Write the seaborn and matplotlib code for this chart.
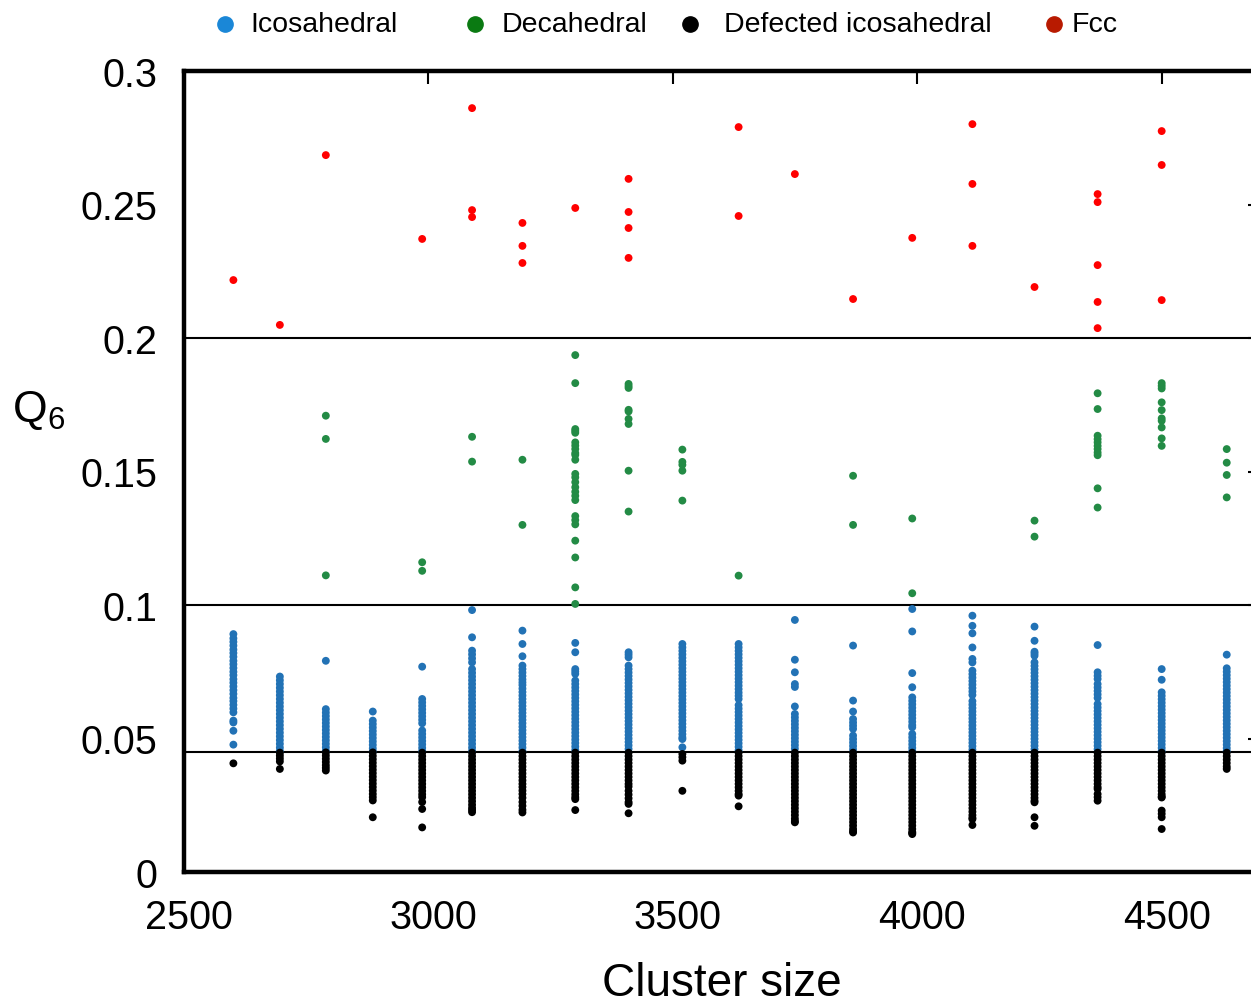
import matplotlib
matplotlib.use("Agg")
import matplotlib.pyplot as plt
import matplotlib.transforms as mtransforms
import pandas as pd
import seaborn as sns
from matplotlib.lines import Line2D
from matplotlib.ticker import FuncFormatter, MultipleLocator

# ---------------- data ----------------
cluster_sizes = [2602, 2697, 2791, 2887, 2988, 3090, 3193, 3301, 3410, 3520,
                 3635, 3750, 3869, 3990, 4113, 4240, 4369, 4500, 4633]

icosahedral_q6 = [
    [0.0891, 0.0875, 0.0862, 0.0848, 0.0833, 0.0820, 0.0806, 0.0791, 0.0778, 0.0764, 0.0750,
     0.0737, 0.0722, 0.0709, 0.0695, 0.0681, 0.0667, 0.0652, 0.0640, 0.0626, 0.0612, 0.0598,
     0.0567, 0.0560, 0.0529, 0.0477],
    [0.0732, 0.0718, 0.0704, 0.0690, 0.0676, 0.0662, 0.0648, 0.0634, 0.0620, 0.0606, 0.0592,
     0.0578, 0.0564, 0.0550, 0.0536, 0.0522, 0.0508, 0.0494, 0.0480, 0.0466, 0.0453],
    [0.0791, 0.0610, 0.0597, 0.0584, 0.0571, 0.0558, 0.0545, 0.0532, 0.0519, 0.0506, 0.0493,
     0.0480, 0.0467, 0.0454],
    [0.0601, 0.0567, 0.0554, 0.0541, 0.0528, 0.0515, 0.0502, 0.0489, 0.0476, 0.0463, 0.0452],
    [0.0769, 0.0648, 0.0635, 0.0622, 0.0609, 0.0596, 0.0583, 0.0570, 0.0557, 0.0530, 0.0517,
     0.0504, 0.0491, 0.0478, 0.0465, 0.0453],
    [0.0981, 0.0879, 0.0829, 0.0815, 0.0800, 0.0785, 0.0760, 0.0746, 0.0732, 0.0718, 0.0704,
     0.0690, 0.0676, 0.0662, 0.0648, 0.0634, 0.0620, 0.0606, 0.0592, 0.0578, 0.0564, 0.0550,
     0.0536, 0.0522, 0.0508, 0.0494, 0.0480, 0.0466, 0.0453],
    [0.0904, 0.0854, 0.0808, 0.0773, 0.0760, 0.0747, 0.0734, 0.0721, 0.0710, 0.0700, 0.0687,
     0.0674, 0.0661, 0.0648, 0.0635, 0.0622, 0.0609, 0.0596, 0.0583, 0.0570, 0.0557, 0.0544,
     0.0531, 0.0518, 0.0505, 0.0492, 0.0479, 0.0466, 0.0453],
    [0.0858, 0.0823, 0.0760, 0.0751, 0.0742, 0.0717, 0.0704, 0.0691, 0.0678, 0.0665, 0.0652,
     0.0639, 0.0626, 0.0613, 0.0600, 0.0587, 0.0574, 0.0561, 0.0548, 0.0535, 0.0522, 0.0509,
     0.0496, 0.0483, 0.0470, 0.0457],
    [0.0823, 0.0814, 0.0804, 0.0773, 0.0760, 0.0747, 0.0734, 0.0721, 0.0708, 0.0695, 0.0682,
     0.0669, 0.0656, 0.0643, 0.0630, 0.0617, 0.0604, 0.0591, 0.0578, 0.0565, 0.0552, 0.0539,
     0.0526, 0.0513, 0.0500, 0.0487, 0.0474, 0.0461],
    [0.0854, 0.0841, 0.0828, 0.0815, 0.0802, 0.0789, 0.0776, 0.0763, 0.0750, 0.0737, 0.0724,
     0.0711, 0.0698, 0.0685, 0.0672, 0.0659, 0.0646, 0.0633, 0.0620, 0.0607, 0.0594, 0.0581,
     0.0568, 0.0555, 0.0542, 0.0529, 0.0516, 0.0504, 0.0498, 0.0467],
    [0.0854, 0.0841, 0.0828, 0.0815, 0.0802, 0.0789, 0.0776, 0.0763, 0.0750, 0.0737, 0.0724,
     0.0711, 0.0698, 0.0685, 0.0672, 0.0660, 0.0648, 0.0625, 0.0612, 0.0599, 0.0586, 0.0573,
     0.0560, 0.0547, 0.0534, 0.0521, 0.0508, 0.0495, 0.0482, 0.0469, 0.0456],
    [0.0944, 0.0795, 0.0748, 0.0704, 0.0693, 0.0620, 0.0592, 0.0579, 0.0566, 0.0553, 0.0540,
     0.0527, 0.0514, 0.0501, 0.0488, 0.0475, 0.0462],
    [0.0848, 0.0642, 0.0601, 0.0573, 0.0560, 0.0548, 0.0536, 0.0511, 0.0498, 0.0485, 0.0472,
     0.0459],
    [0.0985, 0.0901, 0.0745, 0.0692, 0.0654, 0.0641, 0.0628, 0.0615, 0.0602, 0.0589, 0.0576,
     0.0563, 0.0550, 0.0542, 0.0517, 0.0504, 0.0491, 0.0478, 0.0465, 0.0453],
    [0.0960, 0.0922, 0.0894, 0.0841, 0.0798, 0.0785, 0.0754, 0.0741, 0.0728, 0.0715, 0.0702,
     0.0689, 0.0676, 0.0663, 0.0640, 0.0627, 0.0614, 0.0601, 0.0588, 0.0575, 0.0562, 0.0549,
     0.0536, 0.0523, 0.0510, 0.0497, 0.0484, 0.0471, 0.0458],
    [0.0919, 0.0866, 0.0825, 0.0818, 0.0810, 0.0785, 0.0772, 0.0759, 0.0746, 0.0733, 0.0720,
     0.0707, 0.0694, 0.0681, 0.0668, 0.0655, 0.0642, 0.0629, 0.0616, 0.0603, 0.0590, 0.0577,
     0.0564, 0.0551, 0.0538, 0.0525, 0.0512, 0.0499, 0.0486, 0.0473, 0.0460],
    [0.0850, 0.0748, 0.0735, 0.0723, 0.0704, 0.0691, 0.0678, 0.0665, 0.0652, 0.0629, 0.0616,
     0.0603, 0.0590, 0.0577, 0.0564, 0.0551, 0.0538, 0.0525, 0.0512, 0.0499, 0.0486, 0.0473,
     0.0460],
    [0.0760, 0.0720, 0.0673, 0.0660, 0.0647, 0.0634, 0.0621, 0.0608, 0.0595, 0.0582, 0.0569,
     0.0556, 0.0543, 0.0530, 0.0517, 0.0504, 0.0491, 0.0478, 0.0465, 0.0453],
    [0.0814, 0.0763, 0.0750, 0.0737, 0.0724, 0.0711, 0.0698, 0.0685, 0.0672, 0.0659, 0.0646,
     0.0633, 0.0620, 0.0607, 0.0594, 0.0581, 0.0568, 0.0555, 0.0542, 0.0529, 0.0516, 0.0503,
     0.0490, 0.0477, 0.0464, 0.0453],
]

decahedral_q6 = [
    [], [],
    [0.1709, 0.1622, 0.1111],
    [],
    [0.1160, 0.1128],
    [0.1630, 0.1537],
    [0.1544, 0.1300],
    [0.1936, 0.1831, 0.1659, 0.1652, 0.1645, 0.1609, 0.1597, 0.1584, 0.1569, 0.1562, 0.1544,
     0.1491, 0.1478, 0.1460, 0.1441, 0.1424, 0.1409, 0.1393, 0.1333, 0.1318, 0.1302, 0.1241,
     0.1178, 0.1066, 0.1004],
    [0.1828, 0.1820, 0.1813, 0.1731, 0.1725, 0.1697, 0.1678, 0.1503, 0.1350],
    [0.1582, 0.1536, 0.1525, 0.1503, 0.1391],
    [0.1110],
    [],
    [0.1484, 0.1300],
    [0.1324, 0.1044],
    [],
    [0.1316, 0.1256],
    [0.1793, 0.1734, 0.1634, 0.1621, 0.1609, 0.1596, 0.1584, 0.1571, 0.1561, 0.1437, 0.1365],
    [0.1831, 0.1821, 0.1811, 0.1759, 0.1730, 0.1699, 0.1690, 0.1665, 0.1624, 0.1596],
    [0.1584, 0.1533, 0.1487, 0.1403],
]

defected_q6 = [
    [0.0407],
    [0.0447, 0.0436, 0.0425, 0.0414, 0.0386],
    [0.0448, 0.0436, 0.0424, 0.0412, 0.0400, 0.0390, 0.0380],
    [0.0448, 0.0435, 0.0422, 0.0409, 0.0396, 0.0383, 0.0370, 0.0357, 0.0344, 0.0331, 0.0318,
     0.0305, 0.0292, 0.0280, 0.0268, 0.0205],
    [0.0447, 0.0434, 0.0421, 0.0408, 0.0395, 0.0382, 0.0369, 0.0356, 0.0343, 0.0330, 0.0317,
     0.0304, 0.0291, 0.0280, 0.0262, 0.0236, 0.0167],
    [0.0447, 0.0434, 0.0421, 0.0408, 0.0395, 0.0382, 0.0369, 0.0356, 0.0343, 0.0330, 0.0317,
     0.0304, 0.0291, 0.0278, 0.0265, 0.0252, 0.0240, 0.0232, 0.0224],
    [0.0447, 0.0434, 0.0421, 0.0408, 0.0395, 0.0382, 0.0369, 0.0356, 0.0343, 0.0330, 0.0318,
     0.0305, 0.0292, 0.0278, 0.0262, 0.0248, 0.0233, 0.0223],
    [0.0447, 0.0434, 0.0421, 0.0408, 0.0395, 0.0382, 0.0369, 0.0356, 0.0343, 0.0330, 0.0317,
     0.0304, 0.0291, 0.0280, 0.0273, 0.0232],
    [0.0447, 0.0434, 0.0421, 0.0408, 0.0395, 0.0382, 0.0369, 0.0356, 0.0343, 0.0330, 0.0320,
     0.0304, 0.0290, 0.0276, 0.0262, 0.0255, 0.0220],
    [0.0442, 0.0430, 0.0417, 0.0304],
    [0.0447, 0.0434, 0.0421, 0.0408, 0.0395, 0.0382, 0.0369, 0.0356, 0.0343, 0.0330, 0.0317,
     0.0304, 0.0292, 0.0286, 0.0246],
    [0.0447, 0.0434, 0.0421, 0.0408, 0.0395, 0.0382, 0.0369, 0.0356, 0.0343, 0.0330, 0.0317,
     0.0304, 0.0291, 0.0278, 0.0265, 0.0252, 0.0239, 0.0226, 0.0213, 0.0200, 0.0190, 0.0186],
    [0.0447, 0.0434, 0.0421, 0.0408, 0.0395, 0.0382, 0.0369, 0.0356, 0.0343, 0.0330, 0.0317,
     0.0304, 0.0291, 0.0278, 0.0265, 0.0252, 0.0239, 0.0226, 0.0213, 0.0200, 0.0187, 0.0174,
     0.0161, 0.0152, 0.0148],
    [0.0447, 0.0434, 0.0421, 0.0408, 0.0395, 0.0382, 0.0369, 0.0356, 0.0343, 0.0330, 0.0317,
     0.0304, 0.0291, 0.0278, 0.0265, 0.0252, 0.0239, 0.0226, 0.0213, 0.0200, 0.0187, 0.0174,
     0.0161, 0.0150, 0.0146, 0.0142],
    [0.0447, 0.0434, 0.0421, 0.0408, 0.0395, 0.0382, 0.0369, 0.0356, 0.0343, 0.0330, 0.0317,
     0.0304, 0.0291, 0.0278, 0.0265, 0.0252, 0.0239, 0.0226, 0.0213, 0.0203, 0.0198, 0.0176],
    [0.0447, 0.0434, 0.0421, 0.0408, 0.0395, 0.0382, 0.0369, 0.0356, 0.0343, 0.0330, 0.0317,
     0.0304, 0.0291, 0.0278, 0.0267, 0.0261, 0.0205, 0.0173],
    [0.0447, 0.0434, 0.0421, 0.0408, 0.0395, 0.0382, 0.0369, 0.0356, 0.0343, 0.0330, 0.0318,
     0.0311, 0.0292, 0.0280, 0.0267],
    [0.0447, 0.0434, 0.0421, 0.0408, 0.0395, 0.0382, 0.0369, 0.0356, 0.0343, 0.0330, 0.0317,
     0.0304, 0.0291, 0.0282, 0.0279, 0.0230, 0.0218, 0.0205, 0.0161],
    [0.0447, 0.0434, 0.0421, 0.0408, 0.0395, 0.0386],
]

fcc_q6 = [
    [0.2217],
    [0.2049],
    [0.2685],
    [],
    [0.2371],
    [0.2861, 0.2479, 0.2453],
    [0.2431, 0.2345, 0.2281],
    [0.2487],
    [0.2596, 0.2472, 0.2412, 0.2300],
    [],
    [0.2790, 0.2457],
    [0.2614],
    [0.2146],
    [0.2375],
    [0.2801, 0.2577, 0.2345],
    [0.2191],
    [0.2539, 0.2509, 0.2273, 0.2135, 0.2037],
    [0.2775, 0.2648, 0.2142],
    [],
]

structure_names = ["Icosahedral", "Decahedral", "Defected icosahedral", "Fcc"]
point_colors = ["#2272B5", "#238B45", "#000000", "#FF0000"]
legend_colors = ["#1A87D7", "#0A7A12", "#000000", "#B81A00"]
boundaries_q6 = [0.2, 0.1, 0.045]

# ---------------- build long-form table ----------------
rows = []
for name, series in zip(structure_names,
                        [icosahedral_q6, decahedral_q6, defected_q6, fcc_q6]):
    for size, values in zip(cluster_sizes, series):
        for v in values:
            rows.append({"size": size, "q6": v, "structure": name})
df = pd.DataFrame(rows)

# ---------------- styling ----------------
sns.set_style("white")
plt.rcParams["font.family"] = ["Liberation Sans", "DejaVu Sans"]
plt.rcParams["mathtext.fontset"] = "custom"
plt.rcParams["mathtext.rm"] = "Liberation Sans"
plt.rcParams["mathtext.it"] = "Liberation Sans:italic"
plt.rcParams["text.color"] = "black"
plt.rcParams["axes.labelcolor"] = "black"
plt.rcParams["xtick.color"] = "black"
plt.rcParams["ytick.color"] = "black"

W, H = 1251, 1004
fig = plt.figure(figsize=(W / 100, H / 100), dpi=100)
ax = fig.add_axes([183.5 / W, 131 / H, 1076 / W, 801 / H])

for b in boundaries_q6:
    ax.axhline(b, color="black", lw=1.5, zorder=1)

sns.scatterplot(data=df, x="size", y="q6", hue="structure",
                hue_order=structure_names,
                palette=dict(zip(structure_names, point_colors)),
                s=32, linewidth=0, legend=False, ax=ax, zorder=3)

ax.set_xlim(2500, 4700)
ax.set_ylim(0, 0.3)
ax.xaxis.set_major_locator(MultipleLocator(500))
ax.yaxis.set_major_locator(MultipleLocator(0.05))
ax.yaxis.set_major_formatter(FuncFormatter(lambda v, p: f"{v:g}"))
ax.xaxis.set_major_formatter(FuncFormatter(lambda v, p: f"{v:.0f}"))

for s in ax.spines.values():
    s.set_visible(True)
    s.set_linewidth(3.2)
    s.set_color("black")

ax.tick_params(direction="in", length=9, width=1.5, top=True, right=True,
               labelsize=28.5, colors="black", labelcolor="black")
ax.tick_params(axis="y", pad=19)
ax.tick_params(axis="x", pad=19)

ax.set_xlabel("Cluster size", fontsize=33, labelpad=18, color="black")
ax.set_ylabel("Q$_6$", fontsize=32, rotation=0, ha="center", va="center",
              color="black")
ax.yaxis.set_label_coords(-0.135, 0.577)

# shift x tick labels slightly right, as in the reference
fig.canvas.draw()
offset = mtransforms.ScaledTranslation(5 / 100, 0, fig.dpi_scale_trans)
for lab in ax.get_xticklabels():
    lab.set_transform(lab.get_transform() + offset)

# ---------------- legend across the top ----------------
marker_x = [225, 475, 690, 1054]
text_x = [250, 502, 724, 1072]
ly = 1 - 25 / H
for name, col, mx, tx in zip(structure_names, legend_colors, marker_x, text_x):
    fig.add_artist(Line2D([mx / W], [ly], marker="o", ms=11, color=col,
                          linestyle="none", transform=fig.transFigure))
    fig.text(tx / W, ly, name, fontsize=20.5, va="center", ha="left",
             color="black")

fig.savefig("out.png", dpi=100)
